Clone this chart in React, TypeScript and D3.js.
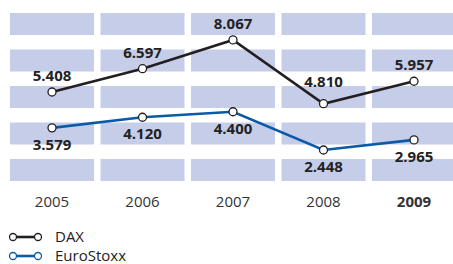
import { useMemo } from "react";
import * as d3 from "d3";

// years on the x axis, last one is the current year (bold)
const years = ["2005", "2006", "2007", "2008", "2009"];
const daxValues = [5.408, 6.597, 8.067, 4.81, 5.957];
const euroStoxxValues = [3.579, 4.12, 4.4, 2.448, 2.965];
const bandRows = [0, 1, 2, 3, 4];

const seriesNames = ["DAX", "EuroStoxx"];

const width = 453;
const height = 264;
const font = "'Open Sans', 'DejaVu Sans', sans-serif";
const bandColor = "#c6cde9";
const daxColor = "#231f20";
const euroColor = "#0b5aa6";

const fmt = (v: number) => v.toFixed(3);

export default function App() {
  const xBand = useMemo(
    () =>
      d3
        .scaleBand<string>()
        .domain(years)
        .range([6.75, 459.25])
        .paddingInner(0.072)
        .paddingOuter(0.036),
    []
  );

  const yRows = useMemo(
    () =>
      d3
        .scaleBand<number>()
        .domain(bandRows)
        .range([5.75, 188.25])
        .paddingInner(0.397)
        .paddingOuter(0.1985),
    []
  );

  const yScale = useMemo(
    () => d3.scaleLinear().domain([0, 10]).range([198, 2]),
    []
  );

  const cx = (year: string) => (xBand(year) ?? 0) + xBand.bandwidth() / 2;

  const line = d3
    .line<number>()
    .x((_, i) => cx(years[i]))
    .y((d) => yScale(d));

  const daxPath = line(daxValues) ?? undefined;
  const euroPath = line(euroStoxxValues) ?? undefined;

  return (
    <svg
      width={width}
      height={height}
      style={{ position: "absolute", left: 0, top: 0, fontFamily: font }}
    >
      {/* background bands */}
      {years.map((yr) =>
        bandRows.map((r) => (
          <rect
            key={`${yr}-${r}`}
            x={xBand(yr)}
            y={yRows(r)}
            width={xBand.bandwidth()}
            height={yRows.bandwidth()}
            fill={bandColor}
          />
        ))
      )}

      {/* lines */}
      <path d={daxPath} fill="none" stroke={daxColor} strokeWidth={2.6} />
      <path d={euroPath} fill="none" stroke={euroColor} strokeWidth={2.6} />

      {/* markers */}
      {daxValues.map((v, i) => (
        <circle
          key={`d${i}`}
          cx={cx(years[i])}
          cy={yScale(v)}
          r={4}
          fill="#fff"
          stroke={daxColor}
          strokeWidth={1.3}
        />
      ))}
      {euroStoxxValues.map((v, i) => (
        <circle
          key={`e${i}`}
          cx={cx(years[i])}
          cy={yScale(v)}
          r={4}
          fill="#fff"
          stroke={daxColor}
          strokeWidth={1.3}
        />
      ))}

      {/* value labels: DAX above, EuroStoxx below */}
      {daxValues.map((v, i) => (
        <text
          key={`dl${i}`}
          x={cx(years[i])}
          y={yScale(v) - (v < 5 ? 17 : 11)}
          textAnchor="middle"
          fontSize={15}
          fontWeight={700}
          fill="#222"
        >
          {fmt(v)}
        </text>
      ))}
      {euroStoxxValues.map((v, i) => (
        <text
          key={`el${i}`}
          x={cx(years[i])}
          y={yScale(v) + 22}
          textAnchor="middle"
          fontSize={15}
          fontWeight={700}
          fill="#222"
        >
          {fmt(v)}
        </text>
      ))}

      {/* year labels */}
      {years.map((yr, i) => (
        <text
          key={yr}
          x={cx(yr)}
          y={207}
          textAnchor="middle"
          fontSize={15}
          fontWeight={i === years.length - 1 ? 700 : 400}
          fill="#333"
        >
          {yr}
        </text>
      ))}

      {/* legend */}
      {seriesNames.map((name, i) => {
        const ly = 237 + i * 19;
        const col = i === 0 ? daxColor : euroColor;
        return (
          <g key={name}>
            <line x1={13} x2={38} y1={ly} y2={ly} stroke={col} strokeWidth={2.6} />
            <circle cx={13} cy={ly} r={3.5} fill="#fff" stroke={col} strokeWidth={1.3} />
            <circle cx={38} cy={ly} r={3.5} fill="#fff" stroke={col} strokeWidth={1.3} />
            <text x={55} y={ly + 4.5} fontSize={15} fill="#222">
              {name}
            </text>
          </g>
        );
      })}
    </svg>
  );
}
